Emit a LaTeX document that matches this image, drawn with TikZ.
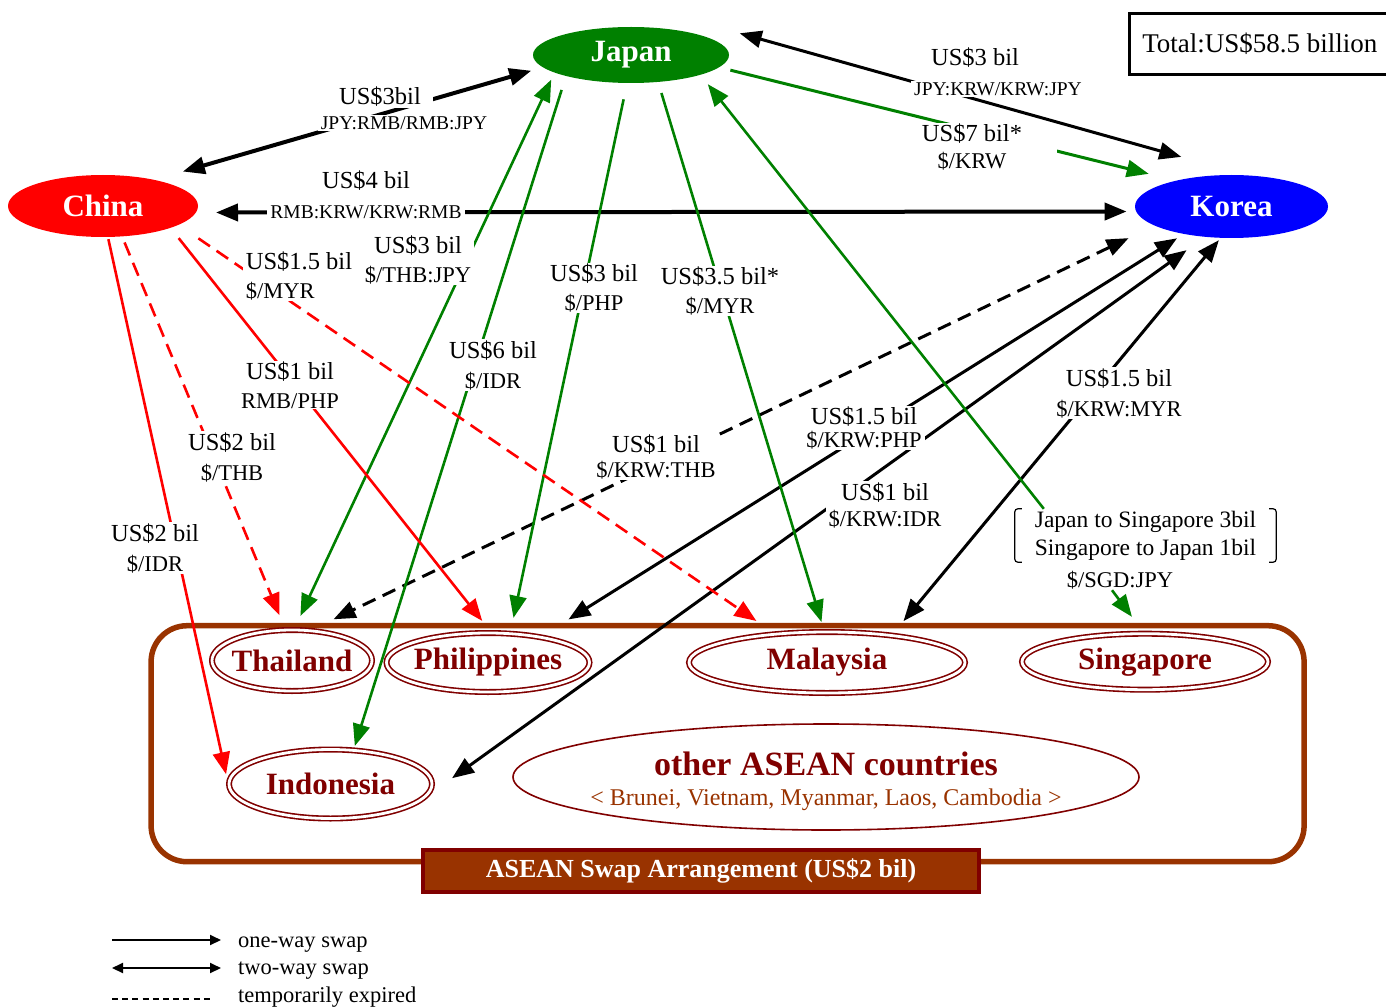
\documentclass[tikz,border=0pt]{standalone}
\usepackage{fontspec}
\setmainfont{Liberation Serif}
\usetikzlibrary{arrows.meta,shapes.geometric}
\definecolor{jgreen}{RGB}{0,128,0}
\definecolor{cred}{RGB}{255,0,0}
\definecolor{kblue}{RGB}{0,0,255}
\definecolor{dred}{RGB}{128,0,0}
\definecolor{brn}{RGB}{153,51,0}
\newcommand\fA{\fontsize{24.5}{30}\selectfont}
\newcommand\fB{\fontsize{22.5}{30}\selectfont}
\newcommand\fC{\fontsize{19.5}{30}\selectfont}
\begin{document}
\begin{tikzpicture}[x=1pt,y=-1pt,
  >={Triangle[length=22pt,width=17pt]},
  country/.style={ellipse, inner sep=0pt, text=white, font=\bfseries\fontsize{31}{36}\selectfont},
  member/.style={ellipse, draw=dred, line width=1.6pt, double=white, double distance=2.8pt, inner sep=0pt, text=dred, font=\bfseries\fontsize{31}{36}\selectfont},
  lbl/.style={fill=white, inner xsep=3pt, inner ysep=1pt, align=center, font=\fA},
  blk/.style={draw=black, line width=3pt},
  grn/.style={draw=jgreen, line width=2.6pt},
  rd/.style={draw=cred, line width=2.6pt},
  dsh/.style={dash pattern=on 14pt off 8pt},
  legtxt/.style={anchor=base west, inner sep=0pt, font=\fB},
  legtip/.tip={Triangle[length=11pt,width=10pt]},
]
\useasboundingbox (0,0) rectangle (1386,1008);

% ASEAN container
\node[draw=brn, line width=5.5pt, rounded corners=36pt, minimum width=1153pt, minimum height=236pt, inner sep=0pt] (asean) at (727.6,743.7) {};
\node[member, minimum width=160pt, minimum height=61pt, inner xsep=-5pt] (thai) at (292,660.5) {Thailand};
\node[member, minimum width=203pt, minimum height=59pt, inner xsep=-4pt] (phil) at (488,662.5) {Philippines};
\node[member, minimum width=276pt, minimum height=61pt] (malay) at (827,662.5) {Malaysia};
\node[member, minimum width=246pt, minimum height=56pt] (sing) at (1145,661.7) {Singapore};
\node[member, minimum width=203pt, minimum height=69pt] (indo) at (330.5,784) {Indonesia};
\node[ellipse, draw=dred, line width=1.6pt, minimum width=626pt, minimum height=106pt, align=center, inner xsep=-20pt, inner ysep=0pt, font=\fontsize{34}{38}\selectfont] (other) at (826,777)
  {\rule{0pt}{32pt}{\bfseries\color{dred}other ASEAN countries}\\[-8pt]{\fontsize{24}{28}\selectfont\color{brn}< Brunei, Vietnam, Myanmar, Laos, Cambodia >}};
\node[fill=brn, draw=dred, line width=4pt, minimum width=556pt, minimum height=42pt, inner sep=0pt, text=white, font=\bfseries\fontsize{26}{30}\selectfont] (albl) at (701,871) {ASEAN Swap Arrangement (US\$2 bil)};

% main countries
\node[country, fill=jgreen, minimum width=196pt, minimum height=56pt] (japan) at (631,55) {Japan};
\node[country, fill=cred, minimum width=190pt, minimum height=62pt] (china) at (103,206) {China};
\node[country, fill=kblue, minimum width=193pt, minimum height=63pt] (korea) at (1231.5,206.5) {Korea};

% Singapore-Japan label
\node[align=left, inner sep=0pt, minimum width=261pt, minimum height=53pt, font=\fontsize{23.5}{28}\selectfont] (sgl) at (1145.5,535.5) {Japan to Singapore 3bil\\Singapore to Japan 1bil};
\draw[line width=1.2pt, rounded corners=3pt] ([xshift=7pt]sgl.north west) -- (sgl.north west) -- (sgl.south west) -- ([xshift=7pt]sgl.south west);
\draw[line width=1.2pt, rounded corners=3pt] ([xshift=-7pt]sgl.north east) -- (sgl.north east) -- (sgl.south east) -- ([xshift=-7pt]sgl.south east);
\node[font=\fB, inner sep=1pt] (sgd) at (1120,580) {\$/SGD:JPY};

% connectors
\draw[blk, line width=4pt, <->, shorten <=29.5pt, shorten >=12pt] (china.27.4) -- (japan.188.9);
\draw[blk, line width=4pt, <->, shorten <=19.9pt, shorten >=9.4pt] (china.356.8) -- (korea.183.2);
\draw[grn, line width=3pt, ->, shorten <=11.5pt, shorten >=28pt] (japan.352.9) -- (korea.155.3);
\node[lbl] (l4) at (988,147) {US\$7 bil*\hspace*{32pt}\\[-3pt]{\fB \$/KRW\hspace*{32pt}}};
\draw[blk, <->, shorten >=68pt] ([shift={(108.7,-21.7)}]japan.center) -- (korea.64.9);
\draw[blk, dsh, <->, shorten <=28.8pt, shorten >=25pt] (korea.194.3) -- (thai.58.1);
\draw[blk, <->, shorten <=8pt, shorten >=32.3pt] (korea.210.5) -- (phil.26.2);
\draw[blk, <->, shorten <=22.6pt, shorten >=37.5pt] (korea.229.3) -- (indo.350);
\draw[blk, <->, shorten <=2.8pt, shorten >=17.8pt] (korea.251.2) -- (malay.23.1);
\draw[grn, <->, shorten <=7.7pt, shorten >=14.7pt] (japan.193.5) -- (thai.86.7);
\draw[grn, ->, shorten <=14.5pt, shorten >=3.8pt] (japan.198.3) -- (indo.56.8);
\draw[grn, ->, shorten <=16.5pt, shorten >=15.4pt] (japan.262.3) -- (phil.53.7);
\draw[grn, ->, shorten <=11.4pt, shorten >=9.6pt] (japan.315) -- (malay.95.8);
\draw[grn, ->, shorten >=11.8pt] ([xshift=29pt]sgl.north west) -- (japan.344.1);
\draw[grn, ->, shorten >=20.1pt] ([xshift=-8pt]sgd.south) -- (sing.92);
\draw[rd, ->, shorten <=2.1pt, shorten >=10pt] (china.279.5) -- (indo.180);
\draw[rd, dsh, ->, shorten <=6.4pt, shorten >=15.3pt] (china.302.8) -- (thai.102.7);
\draw[rd, ->, shorten <=13pt, shorten >=14.4pt] (china.342.6) -- (phil.84.2);
\draw[rd, dsh, ->, shorten <=23.8pt, shorten >=22.2pt] (china.346.7) -- (malay.151.6);

% labels
\node[lbl, inner xsep=12pt] (l1a) at (380,97) {US\$3bil};
\node[lbl, font=\fC] (l1b) at (404,123) {JPY:RMB/RMB:JPY};
\node[lbl] (l2) at (366,195) {US\$4 bil\\{\fC RMB:KRW/KRW:RMB}};
\node[lbl] (l3a) at (975,58) {US\$3 bil};
\node[lbl, font=\fC] (l3b) at (998,89) {JPY:KRW/KRW:JPY};
\node[lbl] (l5) at (418,260) {US\$3 bil\\[-1pt]{\fB \$/THB:JPY}};
\node[lbl] (l6) at (493,365) {US\$6 bil\\{\fB \$/IDR}};
\node[lbl] (l7) at (594,288) {US\$3 bil\\[-1pt]{\fB \$/PHP}};
\node[lbl] (l8) at (720,291) {US\$3.5 bil*\\[-1pt]{\fB \$/MYR}};
\node[lbl] (l9) at (656,457) {US\$1 bil\\[-5pt]{\fB \$/KRW:THB}};
\node[lbl] (l10) at (864,428) {US\$1.5 bil\\[-7pt]{\fB \$/KRW:PHP}};
\node[lbl] (l11) at (885,505) {US\$1 bil\\[-4pt]{\fB \$/KRW:IDR}};
\node[lbl] (l12) at (1119,393) {US\$1.5 bil\\{\fB \$/KRW:MYR}};
\node[lbl, align=left] (l13) at (299,276) {US\$1.5 bil\\[-1pt]{\fB \$/MYR}};
\node[lbl] (l14) at (290,385) {US\$1 bil\\[-1pt]{\fB RMB/PHP}};
\node[lbl] (l15) at (232,457) {US\$2 bil\\{\fB \$/THB}};
\node[lbl] (l16) at (155,548) {US\$2 bil\\{\fB \$/IDR}};

% total
\node[draw, line width=3pt, minimum width=261pt, minimum height=61pt, inner sep=0pt, font=\fontsize{27}{32}\selectfont] (total) at (1259.8,44) {Total:US\$58.5 billion};

% legend
\node[legtxt] (lg1) at (238,947) {one-way swap};
\node[legtxt] (lg2) at (238,974) {two-way swap};
\node[legtxt] (lg3) at (238,1002) {temporarily expired};
\coordinate (la1) at (112,940);
\coordinate (la2) at (112,968);
\coordinate (la3) at (112,999);
\draw[line width=2pt, -legtip] (la1) -- ([xshift=-17pt]la1 -| lg1.west);
\draw[line width=2pt, legtip-legtip] (la2) -- ([xshift=-17pt]la2 -| lg2.west);
\draw[line width=1.6pt, dash pattern=on 6pt off 4.2pt] (la3) -- ([xshift=-25pt]la3 -| lg3.west);
\end{tikzpicture}
\end{document}
